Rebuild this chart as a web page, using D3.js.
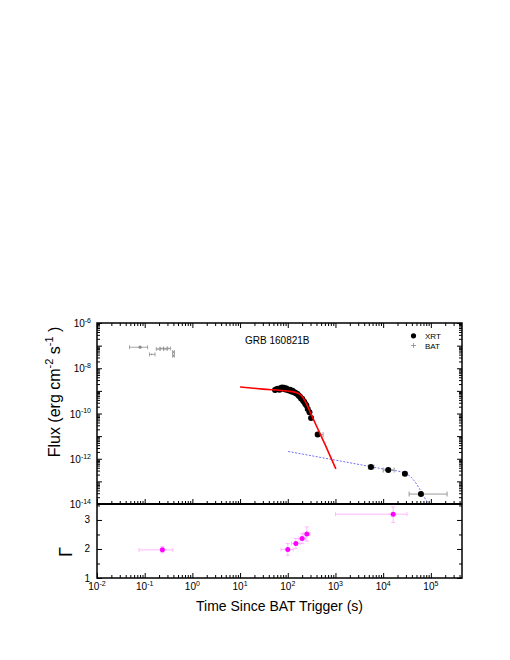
<!DOCTYPE html>
<html><head><meta charset="utf-8">
<script src="https://cdn.jsdelivr.net/npm/d3@7"></script>
<style>body{margin:0;background:#fff} text{font-family:Arial,"Liberation Sans",sans-serif;fill:#000}</style>
</head><body>
<svg id="c" width="510" height="660"></svg>
<script>
// ---------- data ----------
const xrtTime = [54, 58, 62, 67, 72, 76, 80, 84, 89, 94, 100, 106, 112, 119, 126, 134, 142, 150, 160, 170, 180, 190, 200, 210, 220, 232, 245, 262, 285, 308];
const xrtFlux = [1.10e-9, 1.18e-9, 1.25e-9, 1.12e-9, 1.35e-9, 1.42e-9, 1.24e-9, 1.38e-9, 1.15e-9, 1.28e-9, 1.10e-9, 1.05e-9, 1.12e-9, 9.3e-10, 1.02e-9, 8.7e-10, 8.5e-10, 7.6e-10, 7.3e-10, 6.1e-10, 5.7e-10, 4.6e-10, 4.5e-10, 3.7e-10, 3.3e-10, 2.7e-10, 2.3e-10, 1.6e-10, 1.15e-10, 6.3e-11];
const xrtLateTime = [424, 5550, 12800, 28600, 61900];
const xrtLateTimeLo = [390, 4900, 10000, 26000, 35000];
const xrtLateTimeHi = [550, 6400, 17000, 31000, 219000];
const xrtLateFlux = [1.17e-11, 4.27e-13, 3.16e-13, 2.15e-13, 2.75e-14];
const xrtLateFluxLo = [1.0e-11, 3.7e-13, 2.75e-13, 1.85e-13, 2.2e-14];
const xrtLateFluxHi = [1.35e-11, 4.9e-13, 3.6e-13, 2.5e-13, 3.4e-14];

const batTime = [0.080, 0.140, 0.19, 0.23, 0.27, 0.32, 0.40, 0.40];
const batTimeLo = [0.048, 0.126, 0.175, 0.21, 0.25, 0.295, 0.385, 0.385];
const batTimeHi = [0.115, 0.165, 0.21, 0.25, 0.295, 0.35, 0.42, 0.42];
const batFlux = [8.5e-8, 4.1e-8, 7.1e-8, 7.4e-8, 7.2e-8, 7.5e-8, 5.2e-8, 3.6e-8];
const batFluxLo = [7.8e-8, 3.7e-8, 6.4e-8, 6.7e-8, 6.5e-8, 6.8e-8, 4.7e-8, 3.2e-8];
const batFluxHi = [9.2e-8, 4.5e-8, 7.8e-8, 8.1e-8, 7.9e-8, 8.2e-8, 5.7e-8, 4.0e-8];

const fitTime = [10, 30, 100, 150, 180, 200, 230, 260, 300, 400, 600, 1020];
const fitFlux = [1.48e-9, 1.2e-9, 9.8e-10, 8.5e-10, 7.1e-10, 5.6e-10, 3.5e-10, 2.1e-10, 1.07e-10, 2.8e-11, 4.4e-12, 3.55e-13];

const plTime = [102, 1000, 10000, 26300, 35500, 44700, 56200, 70800, 89100, 100000];
const plFlux = [2.1e-12, 8.7e-13, 3.55e-13, 2.45e-13, 1.78e-13, 1.07e-13, 5.2e-14, 2.2e-14, 1.0e-14, 6.3e-15];

const gammaTime = [0.235, 100, 148, 200, 251, 16200];
const gammaTimeLo = [0.076, 72, 120, 170, 211, 1000];
const gammaTimeHi = [0.39, 130, 180, 235, 292, 31600];
const gammaVal = [1.97, 1.98, 2.19, 2.36, 2.52, 3.20];
const gammaLo = [1.87, 1.78, 2.01, 2.19, 2.27, 2.91];
const gammaHi = [2.08, 2.19, 2.36, 2.53, 2.76, 3.45];

const xMajor = [-2, -1, 0, 1, 2, 3, 4, 5];
const yMajorLabels = [-6, -8, -10, -12, -14];
const gMajor = [1, 2, 3];

// ---------- layout ----------
const L = 97, R = 462, T1 = 323, B1 = 504, B2 = 578;
const svg = d3.select("#c");
const x = d3.scaleLog().domain([0.01, 4.5e5]).range([L, R]);
const y = d3.scaleLog().domain([1e-14, 1e-6]).range([B1, T1]);
const g = d3.scaleLinear().domain([1, 3.55]).range([B2, B1]);

function minors(lo, hi) {
  const out = [];
  for (let e = lo; e < hi; e++) for (let k = 2; k <= 9; k++) out.push(k * Math.pow(10, e));
  return out;
}
const xMaj = xMajor.map(e => Math.pow(10, e));
const xMin = minors(-2, 6).filter(v => v <= 4.5e5);
const yMaj = d3.range(-14, -5).map(e => Math.pow(10, e));
const yMin = minors(-14, -6);

function drawAxis(axisFn, scale, vals, size, tr) {
  const a = svg.append("g").attr("transform", tr)
    .call(axisFn(scale).tickValues(vals).tickSize(size).tickFormat(""));
  a.select(".domain").remove();
  a.selectAll("line").attr("stroke", "#000").attr("stroke-width", 1);
}
drawAxis(d3.axisBottom, x, xMaj, 5, `translate(0,${T1})`);
drawAxis(d3.axisBottom, x, xMin, 3, `translate(0,${T1})`);
drawAxis(d3.axisTop, x, xMaj, 5, `translate(0,${B1})`);
drawAxis(d3.axisTop, x, xMin, 3, `translate(0,${B1})`);
drawAxis(d3.axisTop, x, xMaj, 5, `translate(0,${B2})`);
drawAxis(d3.axisTop, x, xMin, 3, `translate(0,${B2})`);
drawAxis(d3.axisRight, y, yMaj, 5, `translate(${L},0)`);
drawAxis(d3.axisRight, y, yMin, 3, `translate(${L},0)`);
drawAxis(d3.axisLeft, y, yMaj, 5, `translate(${R},0)`);
drawAxis(d3.axisLeft, y, yMin, 3, `translate(${R},0)`);
drawAxis(d3.axisRight, g, gMajor, 5, `translate(${L},0)`);
drawAxis(d3.axisRight, g, [1.5, 2.5, 3.5], 3, `translate(${L},0)`);
drawAxis(d3.axisLeft, g, gMajor, 5, `translate(${R},0)`);
drawAxis(d3.axisLeft, g, [1.5, 2.5, 3.5], 3, `translate(${R},0)`);

const defs = svg.append("defs");
defs.append("clipPath").attr("id", "cp1").append("rect").attr("x", L).attr("y", T1).attr("width", R - L).attr("height", B1 - T1);
defs.append("clipPath").attr("id", "cp2").append("rect").attr("x", L).attr("y", B1).attr("width", R - L).attr("height", B2 - B1);

const p1 = svg.append("g").attr("clip-path", "url(#cp1)");
const p2 = svg.append("g").attr("clip-path", "url(#cp2)");

p1.append("path").datum(plTime.map((t, i) => [t, plFlux[i]]))
  .attr("d", d3.line().x(d => x(d[0])).y(d => y(d[1])).curve(d3.curveMonotoneX))
  .attr("fill", "none").attr("stroke", "#6f6fff").attr("stroke-width", 1).attr("stroke-dasharray", "2,1.5");

const batIdx = d3.range(batTime.length);
const gb = p1.append("g").attr("stroke", "#808080").attr("stroke-width", 0.7);
batIdx.forEach(i => {
  const cx = x(batTime[i]), cy = y(batFlux[i]);
  gb.append("line").attr("x1", x(batTimeLo[i])).attr("x2", x(batTimeHi[i])).attr("y1", cy).attr("y2", cy);
  gb.append("line").attr("x1", x(batTimeLo[i])).attr("x2", x(batTimeLo[i])).attr("y1", cy - 2).attr("y2", cy + 2);
  gb.append("line").attr("x1", x(batTimeHi[i])).attr("x2", x(batTimeHi[i])).attr("y1", cy - 2).attr("y2", cy + 2);
  gb.append("line").attr("x1", cx).attr("x2", cx).attr("y1", y(batFluxLo[i])).attr("y2", y(batFluxHi[i]));
});
p1.selectAll("circle.bat").data(batIdx.slice(0, 1)).join("circle")
  .attr("cx", i => x(batTime[i])).attr("cy", i => y(batFlux[i])).attr("r", 1.6).attr("fill", "#888");

const ge = p1.append("g").attr("stroke", "#999").attr("stroke-width", 1);
xrtLateTime.forEach((t, i) => {
  const cx = x(t), cy = y(xrtLateFlux[i]);
  ge.append("line").attr("x1", x(xrtLateTimeLo[i])).attr("x2", x(xrtLateTimeHi[i])).attr("y1", cy).attr("y2", cy);
  ge.append("line").attr("x1", x(xrtLateTimeLo[i])).attr("x2", x(xrtLateTimeLo[i])).attr("y1", cy - 2.5).attr("y2", cy + 2.5);
  ge.append("line").attr("x1", x(xrtLateTimeHi[i])).attr("x2", x(xrtLateTimeHi[i])).attr("y1", cy - 2.5).attr("y2", cy + 2.5);
  ge.append("line").attr("x1", cx).attr("x2", cx).attr("y1", y(xrtLateFluxLo[i])).attr("y2", y(xrtLateFluxHi[i]));
});

p1.selectAll("circle.xrt").data(xrtTime.map((t, i) => [t, xrtFlux[i]])).join("circle")
  .attr("cx", d => x(d[0])).attr("cy", d => y(d[1])).attr("r", 3).attr("fill", "#000");
p1.selectAll("circle.xrtl").data(xrtLateTime.map((t, i) => [t, xrtLateFlux[i]])).join("circle")
  .attr("cx", d => x(d[0])).attr("cy", d => y(d[1])).attr("r", 3).attr("fill", "#000");

p1.append("path").datum(fitTime.map((t, i) => [t, fitFlux[i]]))
  .attr("d", d3.line().x(d => x(d[0])).y(d => y(d[1])).curve(d3.curveMonotoneX))
  .attr("fill", "none").attr("stroke", "#ff0000").attr("stroke-width", 1.6);

const gg = p2.append("g").attr("stroke", "#ffb8ff").attr("stroke-width", 1);
gammaTime.forEach((t, i) => {
  const cx = x(t), cy = g(gammaVal[i]);
  gg.append("line").attr("x1", x(gammaTimeLo[i])).attr("x2", x(gammaTimeHi[i])).attr("y1", cy).attr("y2", cy);
  gg.append("line").attr("x1", x(gammaTimeLo[i])).attr("x2", x(gammaTimeLo[i])).attr("y1", cy - 2).attr("y2", cy + 2);
  gg.append("line").attr("x1", x(gammaTimeHi[i])).attr("x2", x(gammaTimeHi[i])).attr("y1", cy - 2).attr("y2", cy + 2);
  gg.append("line").attr("x1", cx).attr("x2", cx).attr("y1", g(gammaLo[i])).attr("y2", g(gammaHi[i]));
  gg.append("line").attr("x1", cx - 2).attr("x2", cx + 2).attr("y1", g(gammaLo[i])).attr("y2", g(gammaLo[i]));
  gg.append("line").attr("x1", cx - 2).attr("x2", cx + 2).attr("y1", g(gammaHi[i])).attr("y2", g(gammaHi[i]));
});
p2.selectAll("circle.gm").data(gammaTime.map((t, i) => [t, gammaVal[i]])).join("circle")
  .attr("cx", d => x(d[0])).attr("cy", d => g(d[1])).attr("r", 2.5).attr("fill", "#ff00ff");

svg.append("rect").attr("x", L).attr("y", T1).attr("width", R - L).attr("height", B2 - T1)
  .attr("fill", "none").attr("stroke", "#000").attr("stroke-width", 1.5);
svg.append("line").attr("x1", L).attr("x2", R).attr("y1", B1).attr("y2", B1).attr("stroke", "#000").attr("stroke-width", 1.8);

function pow10Label(sel, base, exp, fs) {
  sel.append("tspan").text(base).attr("font-size", fs);
  sel.append("tspan").text(exp).attr("font-size", fs * 0.7).attr("dy", -fs * 0.42);
}
xMajor.forEach(e => {
  const t = svg.append("text").attr("x", x(Math.pow(10, e))).attr("y", 590).attr("text-anchor", "middle");
  pow10Label(t, "10", String(e), 10);
});
yMajorLabels.forEach(e => {
  const t = svg.append("text").attr("x", 91).attr("y", y(Math.pow(10, e)) + 4).attr("text-anchor", "end");
  pow10Label(t, "10", String(e), 10);
});
gMajor.forEach(v => {
  svg.append("text").attr("x", 90).attr("y", g(v) + 3.5).attr("text-anchor", "end").attr("font-size", 10).text(v);
});

svg.append("text").attr("x", (L + R) / 2).attr("y", 611).attr("text-anchor", "middle").attr("font-size", 14)
  .text("Time Since BAT Trigger (s)");
const yl = svg.append("text").attr("transform", "translate(60,392) rotate(-90)").attr("text-anchor", "middle").attr("font-size", 16);
yl.append("tspan").text("Flux (erg cm");
yl.append("tspan").text("-2").attr("font-size", 11).attr("dy", -7);
yl.append("tspan").text(" s").attr("dy", 7);
yl.append("tspan").text("-1").attr("font-size", 11).attr("dy", -7);
yl.append("tspan").text(" )").attr("dy", 7);
svg.append("text").attr("transform", "translate(72,552) rotate(-90)").attr("text-anchor", "middle").attr("font-size", 18).text("Γ");

svg.append("text").attr("x", 245).attr("y", 343.5).attr("font-size", 10).text("GRB 160821B");
svg.append("circle").attr("cx", 413.5).attr("cy", 335.8).attr("r", 2.6).attr("fill", "#000");
svg.append("text").attr("x", 425).attr("y", 338.8).attr("font-size", 8).text("XRT");
svg.append("line").attr("x1", 411).attr("x2", 416).attr("y1", 345.5).attr("y2", 345.5).attr("stroke", "#888").attr("stroke-width", 0.8);
svg.append("line").attr("x1", 413.5).attr("x2", 413.5).attr("y1", 343).attr("y2", 348).attr("stroke", "#888").attr("stroke-width", 0.8);
svg.append("text").attr("x", 425).attr("y", 348.5).attr("font-size", 8).text("BAT");
</script>
</body></html>
